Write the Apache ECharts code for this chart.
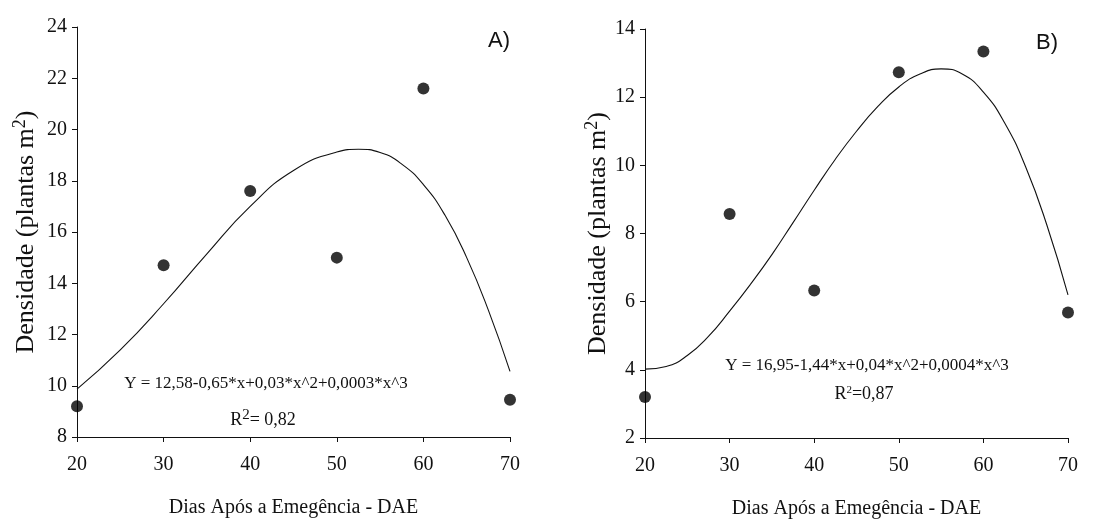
<!DOCTYPE html>
<html>
<head>
<meta charset="utf-8">
<script src="https://cdn.jsdelivr.net/npm/echarts@6/dist/echarts.min.js"></script>
<style>
html,body{margin:0;padding:0;background:#fff;}
#c{width:1114px;height:522px;}
</style>
</head>
<body>
<div id="c"></div>
<script>
// ---- data ----
const daysObs = [20, 30, 40, 50, 60, 70];
const densA = [9.2, 14.7, 17.6, 15.0, 21.6, 9.45];
const densB = [3.2, 8.57, 6.33, 12.73, 13.34, 5.68];

// fitted curves
const fitAx = [20, 25, 30, 35, 40, 45, 50, 52.5, 55, 57.5, 60, 62.5, 65, 67.5, 70];
const fitAy = [9.87, 11.4, 13.2, 15.15, 17.0, 18.4, 19.12, 19.23, 19.1, 18.65, 17.85, 16.65, 15.0, 12.95, 10.56];
const fitBx = [20, 22.5, 25, 27.5, 30, 32.5, 35, 37.5, 40, 42.5, 45, 47.5, 50, 52.5, 55, 57.5, 60, 62.5, 65, 67.5, 70];
const fitBy = [4.02, 4.1, 4.42, 4.98, 5.72, 6.52, 7.38, 8.32, 9.27, 10.18, 11.0, 11.72, 12.3, 12.68, 12.83, 12.68, 12.15, 11.25, 9.95, 8.25, 6.2];

const xTicks = { min: 20, max: 70, interval: 10 };
const yTicksA = { min: 8, max: 24, interval: 2 };
const yTicksB = { min: 2, max: 14, interval: 2 };

const xTitle = 'Dias Após a Emegência - DAE';
const yTitle = 'Densidade (plantas m{sup|2})';
const eqA = 'Y = 12,58-0,65*x+0,03*x^2+0,0003*x^3';
const eqB = 'Y = 16,95-1,44*x+0,04*x^2+0,0004*x^3';

// ---- chart ----
const SERIF = '"Liberation Serif", "Times New Roman", serif';
const chart = echarts.init(document.getElementById('c'));

function pairs(xs, ys) { return xs.map((x, i) => [x, ys[i]]); }

function xAxisCfg(gi) {
  return {
    type: 'value', gridIndex: gi, min: xTicks.min, max: xTicks.max, interval: xTicks.interval,
    name: xTitle, nameLocation: 'middle', nameGap: 61,
    nameTextStyle: { fontFamily: SERIF, fontSize: 20, color: '#111' },
    axisLine: { show: true, onZero: false, lineStyle: { color: '#111', width: 1 } },
    axisTick: { show: true, inside: false, length: 5, lineStyle: { color: '#111' } },
    axisLabel: { fontFamily: SERIF, fontSize: 20, color: '#111', margin: 18 },
    splitLine: { show: false }
  };
}
function yAxisCfg(gi, t, gap) {
  return {
    type: 'value', gridIndex: gi, min: t.min, max: t.max, interval: t.interval,
    name: yTitle, nameLocation: 'middle', nameGap: gap, nameRotate: 90,
    nameTextStyle: {
      fontFamily: SERIF, fontSize: 26, color: '#111',
      rich: { sup: { fontFamily: SERIF, fontSize: 18, color: '#111', verticalAlign: 'top', padding: [0, 0, 12, 0] } }
    },
    axisLine: { show: true, onZero: false, lineStyle: { color: '#111', width: 1 } },
    axisTick: { show: true, inside: false, length: 5, lineStyle: { color: '#111' } },
    axisLabel: { fontFamily: SERIF, fontSize: 20, color: '#111', margin: 10 },
    splitLine: { show: false }
  };
}

const option = {
  backgroundColor: '#fff',
  animation: false,
  grid: [
    { left: 77, top: 27, width: 433, height: 410, containLabel: false, outerBoundsMode: 'none' },
    { left: 645, top: 29, width: 423, height: 409, containLabel: false, outerBoundsMode: 'none' }
  ],
  xAxis: [xAxisCfg(0), xAxisCfg(1)],
  yAxis: [yAxisCfg(0, yTicksA, 36), yAxisCfg(1, yTicksB, 32)],
  series: [
    { type: 'line', xAxisIndex: 0, yAxisIndex: 0, data: pairs(fitAx, fitAy), smooth: true, showSymbol: false,
      lineStyle: { color: '#111', width: 1.1 }, silent: true, z: 2 },
    { type: 'scatter', xAxisIndex: 0, yAxisIndex: 0, data: pairs(daysObs, densA), symbol: 'circle', symbolSize: 12,
      itemStyle: { color: '#000' }, z: 3 },
    { type: 'line', xAxisIndex: 1, yAxisIndex: 1, data: pairs(fitBx, fitBy), smooth: true, showSymbol: false,
      lineStyle: { color: '#111', width: 1.1 }, silent: true, z: 2 },
    { type: 'scatter', xAxisIndex: 1, yAxisIndex: 1, data: pairs(daysObs, densB), symbol: 'circle', symbolSize: 12,
      itemStyle: { color: '#000' }, z: 3 }
  ],
  graphic: [
    { type: 'text', left: 488, top: 30, style: { text: 'A)', font: '22px "Liberation Sans", Arial, sans-serif', fill: '#111' } },
    { type: 'text', left: 1036, top: 32, style: { text: 'B)', font: '22px "Liberation Sans", Arial, sans-serif', fill: '#111' } },
    { type: 'text', x: 266, y: 384, style: { text: eqA, font: '17px "Liberation Serif", serif', fill: '#111', align: 'center', verticalAlign: 'middle' } },
    { type: 'text', x: 263, y: 420, style: { text: 'R{sup|2}= 0,82', font: '18px "Liberation Serif", serif', fill: '#111', align: 'center', verticalAlign: 'middle',
      rich: { sup: { font: '15px "Liberation Serif", serif', fill: '#111', verticalAlign: 'top', padding: [0, 0, 9, 0] } } } },
    { type: 'text', x: 867, y: 366, style: { text: eqB, font: '17px "Liberation Serif", serif', fill: '#111', align: 'center', verticalAlign: 'middle' } },
    { type: 'text', x: 864, y: 394, style: { text: 'R{sup|2}=0,87', font: '18px "Liberation Serif", serif', fill: '#111', align: 'center', verticalAlign: 'middle',
      rich: { sup: { font: '11px "Liberation Serif", serif', fill: '#111', verticalAlign: 'top', padding: [0, 0, 8, 0] } } } }
  ]
};
chart.setOption(option);
</script>
</body>
</html>
